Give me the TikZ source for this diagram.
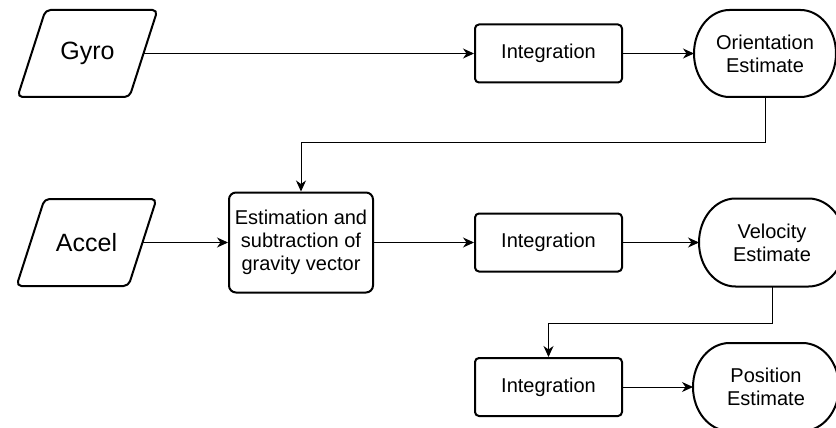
\documentclass[tikz,border=0pt]{standalone}
\usepackage{fontspec}
\setmainfont{Liberation Sans}
\usetikzlibrary{arrows.meta,calc}

\tikzset{
  base/.style={font=\fontsize{20}{23}\selectfont, align=center, line width=2pt, inner sep=0pt},
  procbox/.style={base, draw, rectangle, rounded corners=4pt, minimum width=147pt, minimum height=58pt},
  calcbox/.style={base, draw, rectangle, rounded corners=7pt, minimum width=144pt, minimum height=100pt},
  inputtext/.style={base, outer sep=0pt, font=\fontsize{25}{29}\selectfont},
  termtext/.style={base, outer sep=0pt},
  termline/.style={line width=2pt, line join=round},
  flow/.style={line width=1pt, -{Stealth[length=11pt,width=10pt,inset=3.5pt]}},
}

% data input: slanted box, 140 wide, 87 high, slant 28
% #1 name, #2 x, #3 y, #4 text
\newcommand\flowinput[4]{%
  \node[inputtext, minimum width=140pt, minimum height=87pt] (#1) at (#2,#3) {#4};
  \draw[termline, rounded corners=5pt]
    (#2-70+28,#3-43.5) -- (#2+70,#3-43.5) -- (#2+70-28,#3+43.5)
    -- (#2-70,#3+43.5) -- cycle;
  \coordinate (#1-out) at (#2+70-14,#3);
}

% terminal shape: flat top and bottom, half-elliptical ends
% #1 name, #2 x, #3 y, #4 width, #5 height, #6 text
\newcommand\flowterm[6]{%
  \node[termtext, minimum width=#4pt, minimum height=#5pt] (#1) at (#2,#3) {#6};
  \draw[termline] ([xshift=-#4pt/4]#1.north) -- ([xshift=#4pt/4]#1.north)
    arc[start angle=90, end angle=-90, x radius=#4pt/4, y radius=#5pt/2]
    -- ([xshift=-#4pt/4]#1.south)
    arc[start angle=-90, end angle=-270, x radius=#4pt/4, y radius=#5pt/2]
    -- cycle;
}

\begin{document}
\begin{tikzpicture}[x=1pt, y=-1pt]
  \useasboundingbox (0,0) rectangle (836,428);

  % inputs
  \flowinput{gyro}{87.5}{53.5}{Gyro}
  \flowinput{accel}{86.5}{242.5}{Accel}

  % processing steps
  \node[procbox] (int1) at (548.5,53.5) {Integration};
  \node[calcbox] (grav) at (301,242.5) {Estimation and\\subtraction of\\gravity vector};
  \node[procbox] (int2) at (548.5,242.5) {Integration};
  \node[procbox] (int3) at (548.5,387) {Integration};

  % estimates
  \flowterm{ori}{765}{53.5}{142}{87}{Orientation\\Estimate}
  \flowterm{vel}{772}{242.5}{146}{88}{Velocity\\Estimate}
  \flowterm{pos}{766}{387}{146}{88}{Position\\Estimate}

  % connectors
  \draw[flow] (gyro-out) -- (int1.west);
  \draw[flow] (int1.east) -- (ori.west);
  \draw[flow] (ori.south) -- ++(0,45) -| (grav.north);
  \draw[flow] (accel-out) -- (grav.west);
  \draw[flow] (grav.east) -- (int2.west);
  \draw[flow] (int2.east) -- (vel.west);
  \draw[flow] (vel.south) -- ++(0,37) -| (int3.north);
  \draw[flow] (int3.east) -- (pos.west);
\end{tikzpicture}
\end{document}
